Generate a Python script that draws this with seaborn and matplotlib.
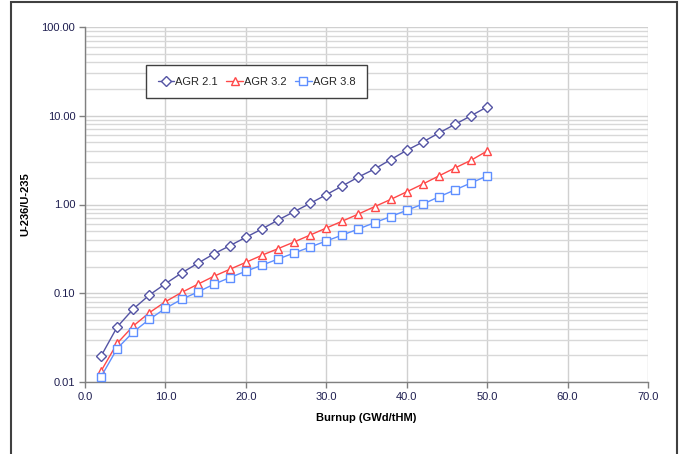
import numpy as np
import pandas as pd
import matplotlib
matplotlib.use("Agg")
import matplotlib.pyplot as plt
import matplotlib.patches as mpatches
from matplotlib.ticker import FixedLocator, FixedFormatter, LogLocator, NullFormatter
import seaborn as sns

burnup = [2, 4, 6, 8, 10, 12, 14, 16, 18, 20, 22, 24, 26, 28, 30, 32, 34, 36, 38, 40, 42, 44, 46, 48, 50]
agr_21 = [0.0196, 0.0417, 0.0665, 0.0955, 0.128, 0.169, 0.217, 0.277, 0.343, 0.427, 0.530, 0.668, 0.830,
          1.03, 1.29, 1.62, 2.04, 2.51, 3.20, 4.08, 5.06, 6.39, 8.0, 10.0, 12.6]
agr_32 = [0.0133, 0.0273, 0.0428, 0.0604, 0.0803, 0.102, 0.126, 0.155, 0.186, 0.223, 0.268, 0.318, 0.378,
          0.453, 0.543, 0.650, 0.781, 0.945, 1.14, 1.39, 1.70, 2.10, 2.58, 3.15, 4.01]
agr_38 = [0.0115, 0.0238, 0.0366, 0.0508, 0.0676, 0.0853, 0.103, 0.126, 0.150, 0.177, 0.207, 0.243, 0.284,
          0.332, 0.388, 0.453, 0.530, 0.624, 0.730, 0.861, 1.01, 1.22, 1.46, 1.75, 2.10]
series_names = ["AGR 2.1", "AGR 3.2", "AGR 3.8"]
x_ticks = [0, 10, 20, 30, 40, 50, 60, 70]
x_tick_labels = ["0.0", "10.0", "20.0", "30.0", "40.0", "50.0", "60.0", "70.0"]
y_ticks = [0.01, 0.1, 1, 10, 100]
y_tick_labels = ["0.01", "0.10", "1.00", "10.00", "100.00"]

df = pd.DataFrame({
    "burnup": burnup * 3,
    "ratio": agr_21 + agr_32 + agr_38,
    "series": [series_names[0]] * len(burnup) + [series_names[1]] * len(burnup) + [series_names[2]] * len(burnup),
})

sns.set_style("white")
plt.rcParams["font.family"] = ["Liberation Sans", "DejaVu Sans"]

fig = plt.figure(figsize=(6.81, 4.54), dpi=100)
ax = fig.add_axes([85 / 681, 1 - 382 / 454, (648 - 85) / 681, (382 - 27) / 454])

colors = {"AGR 2.1": "#5454A4", "AGR 3.2": "#FF4848", "AGR 3.8": "#5F8FFF"}
markers = {"AGR 2.1": "D", "AGR 3.2": "^", "AGR 3.8": "s"}
msizes = {"AGR 2.1": 4.8, "AGR 3.2": 6.2, "AGR 3.8": 6.0}

for name in series_names:
    sub = df[df["series"] == name]
    sns.lineplot(data=sub, x="burnup", y="ratio", ax=ax, color=colors[name], marker=markers[name],
                 markersize=msizes[name], markerfacecolor="white", markeredgecolor=colors[name],
                 markeredgewidth=1.0, linewidth=1.0, label=name, zorder=3)

ax.set_yscale("log")
ax.set_xlim(0, 70)
ax.set_ylim(0.01, 100)

ax.xaxis.set_major_locator(FixedLocator(x_ticks))
ax.xaxis.set_major_formatter(FixedFormatter(x_tick_labels))
ax.yaxis.set_major_locator(FixedLocator(y_ticks))
ax.yaxis.set_major_formatter(FixedFormatter(y_tick_labels))
ax.yaxis.set_minor_locator(LogLocator(base=10, subs=np.arange(2, 10)))
ax.yaxis.set_minor_formatter(NullFormatter())

ax.grid(True, which="major", axis="both", color="#d0d0d0", linewidth=1.0, zorder=0)
ax.grid(True, which="minor", axis="y", color="#d8d8d8", linewidth=1.0, zorder=0)
ax.set_axisbelow(True)

for s in ["top", "right"]:
    ax.spines[s].set_visible(False)
for s in ["left", "bottom"]:
    ax.spines[s].set_color("#808080")
    ax.spines[s].set_linewidth(1.0)

ax.tick_params(axis="both", which="major", direction="out", length=4, width=1, color="#808080",
               labelsize=8, labelcolor="#1e1e50", pad=3, left=True, bottom=True)
ax.tick_params(axis="y", which="minor", length=0)

ax.set_xlabel("Burnup (GWd/tHM)", fontsize=8, fontweight="bold", color="black", labelpad=8)
ax.set_ylabel("U-236/U-235", fontsize=8, fontweight="bold", color="black")
ax.yaxis.set_label_coords((30 - 85) / 563, 0.5)

handles, labels = ax.get_legend_handles_labels()
if ax.get_legend():
    ax.get_legend().remove()
leg = fig.legend(handles, labels, loc="upper left", bbox_to_anchor=(146 / 681, 1 - 65 / 454),
                 bbox_transform=fig.transFigure, ncol=3, fontsize=8, frameon=True, fancybox=False,
                 handlelength=1.5, handletextpad=0.1, columnspacing=0.75, borderpad=1.05,
                 borderaxespad=0.0, edgecolor="#404040", framealpha=1.0)
leg.get_frame().set_linewidth(1.0)

frame = mpatches.Rectangle((11 / 681, -0.05), (677 - 11) / 681, 1.05 - 1.5 / 454, transform=fig.transFigure,
                           fill=False, edgecolor="#404040", linewidth=1.5, zorder=10)
fig.patches.append(frame)

fig.savefig("out.png", dpi=100)
